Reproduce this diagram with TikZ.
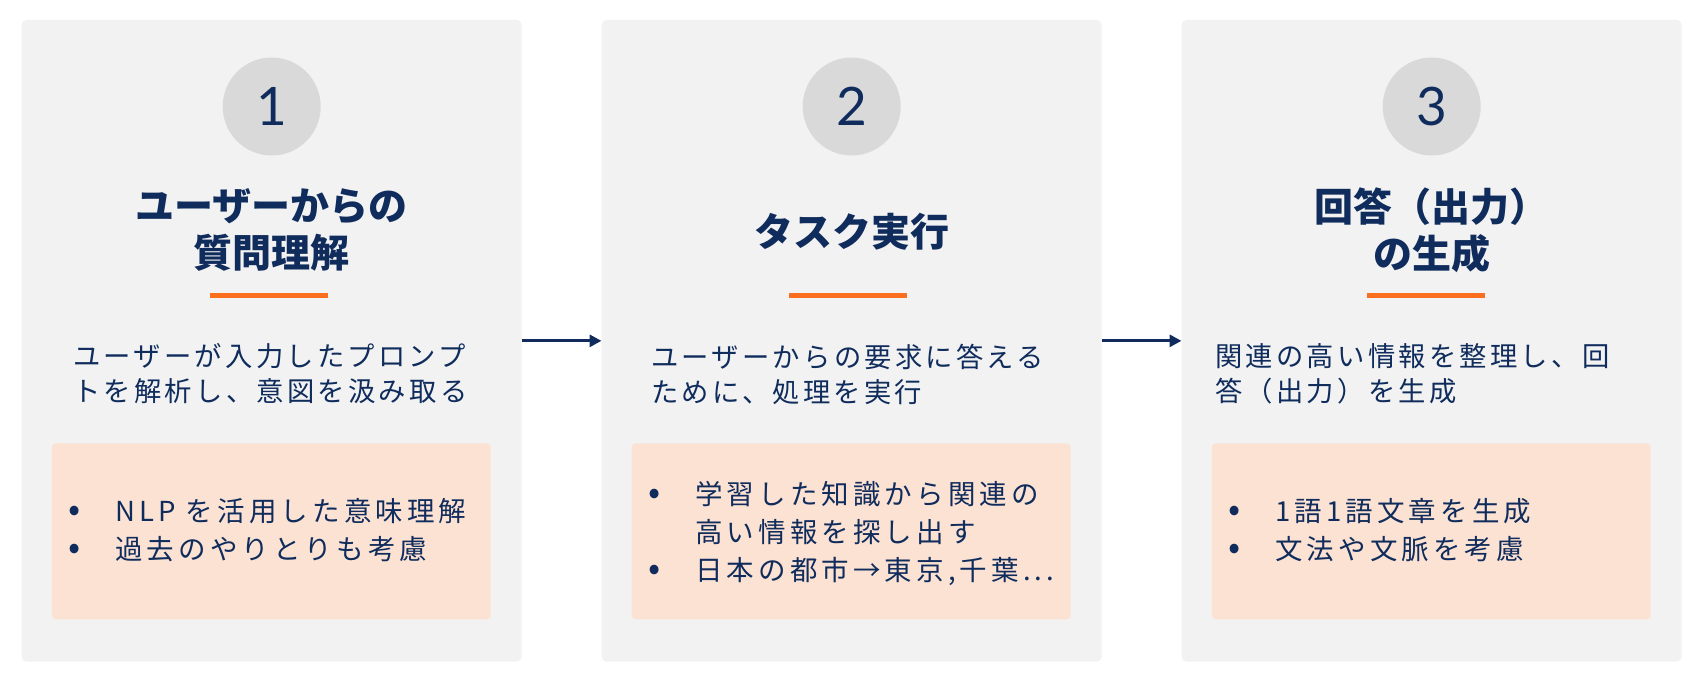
\documentclass[tikz,border=0pt]{standalone}
\usepackage{fontspec}
\usetikzlibrary{arrows.meta}

\newfontfamily\jpfont{Noto Sans CJK JP}
\newfontfamily\jpspaced[LetterSpace=12]{Noto Sans CJK JP}
\newfontfamily\jpwide[LetterSpace=15]{Noto Sans CJK JP}
\newfontfamily\numfont{Lato}

\definecolor{navy}{HTML}{0F2C5C}
\definecolor{panelgray}{HTML}{F2F2F2}
\definecolor{circlegray}{HTML}{D9D9D9}
\definecolor{peach}{HTML}{FCE2D3}
\definecolor{accent}{HTML}{FA6E1E}

\newcommand{\bul}{\makebox[47pt][l]{\scalebox{1.3}{•}}}

\begin{document}
\begin{tikzpicture}[x=1pt,y=-1pt,
    flow/.style={draw=navy, line width=3pt, -{Triangle[length=12pt,width=12pt]}}]

        \fill[white] (0,0) rectangle (1706,682);
        \useasboundingbox (0,0) rectangle (1706,682);

        % panels
        \begin{scope}[every node/.style={fill=panelgray, rounded corners=5pt, minimum width=500pt, minimum height=641.7pt, inner sep=0pt}]
          \node (p1) at (271.7,340.85) {};
          \node (p2) at (851.7,340.85) {};
          \node (p3) at (1431.7,340.85) {};
        \end{scope}

        % step numbers
        \begin{scope}[every node/.style={circle, fill=circlegray, minimum size=98pt, inner sep=0pt, text=navy, font=\numfont\fontsize{53}{53}\selectfont}]
          \node (n1) at (271.7,106.5) {1};
          \node (n2) at (851.7,106.5) {2};
          \node (n3) at (1431.7,106.5) {3};
        \end{scope}

        % titles
        \begin{scope}[every node/.style={align=center, text=navy, inner sep=0pt, font=\jpfont\bfseries\fontsize{39}{47}\selectfont}]
          \node (t1) at (271.7,230) {ユーザーからの\\質問理解};
          \node (t2) at (851.7,232) {タスク実行};
          \node (t3) at (1431.7,230) {回答（出力）\\の生成};
        \end{scope}

        % orange bars
        \begin{scope}[every node/.style={fill=accent, minimum width=118pt, minimum height=4.5pt, inner sep=0pt}]
          \node (u1) at (268.5,295.5) {};
          \node (u2) at (847.5,295.5) {};
          \node (u3) at (1426.3,295.5) {};
        \end{scope}

        % descriptions
        \begin{scope}[every node/.style={anchor=west, align=left, text=navy, inner sep=0pt, font=\jpspaced\fontsize{27.3}{35}\selectfont}]
          \node (d1) at (73,374) {ユーザーが入力したプロンプ\\トを解析し、意図を汲み取る};
          \node (d2) at (651,374) {ユーザーからの要求に答える\\ために、処理を実行};
          \node (d3) at (1215,374) {関連の高い情報を整理し、回\\答（出力）を生成};
        \end{scope}

        % detail boxes
        \begin{scope}[every node/.style={fill=peach, rounded corners=4pt, minimum width=439pt, minimum height=176pt, inner sep=0pt}]
          \node (b1) at (271.2,531.3) {};
          \node (b2) at (851.2,531.3) {};
          \node (b3) at (1431.2,531.3) {};
        \end{scope}

        \begin{scope}[every node/.style={anchor=west, align=left, text=navy, inner sep=0pt, font=\jpwide\fontsize{27.5}{38}\selectfont}]
          \node (l1) at (68,530) {\bul NLP を活用した意味理解\\\bul 過去のやりとりも考慮};
          \node (l2) at (648,533) {\bul 学習した知識から関連の\\\hspace*{47pt}高い情報を探し出す\\\bul 日本の都市→東京,千葉...};
          \node (l3) at (1228,530) {\bul 1語1語文章を生成\\\bul 文法や文脈を考慮};
        \end{scope}

        \draw[flow] (p1) -- (p2);
        \draw[flow] (p2) -- (p3);

      \end{tikzpicture}
\end{document}
